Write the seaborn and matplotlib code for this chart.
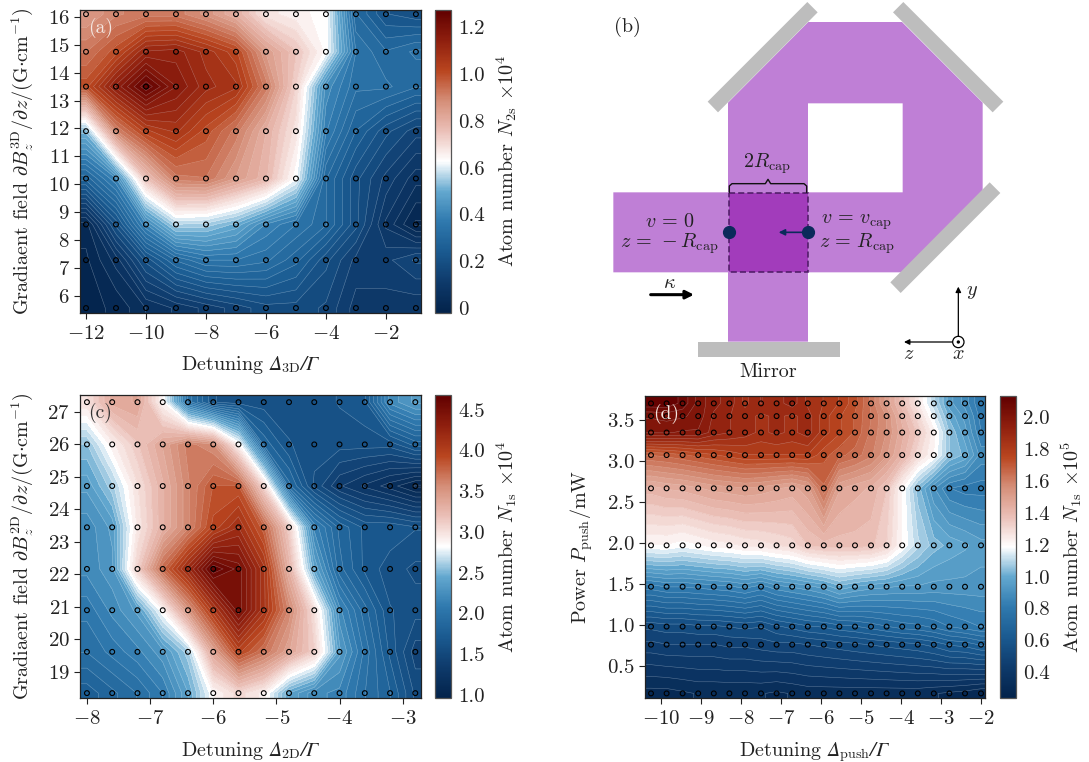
import numpy as np
import matplotlib
matplotlib.use('Agg')
import matplotlib.pyplot as plt
from matplotlib.cm import ScalarMappable
from matplotlib.colors import Normalize
from matplotlib.patches import Polygon, Circle
import seaborn as sns

# panel a
a_x = [-12, -11, -10, -9, -8, -7, -6, -5, -4, -3, -2, -1]
a_y = [5.55, 7.27, 8.55, 10.2, 11.9, 13.5, 14.75, 16.1]
a_z = [
    [0.00, 0.01, 0.06, 0.09, 0.12, 0.15, 0.18, 0.18, 0.16, 0.10, 0.10, 0.09],
    [0.00, 0.07, 0.20, 0.30, 0.35, 0.35, 0.33, 0.28, 0.20, 0.13, 0.13, 0.17],
    [0.02, 0.20, 0.40, 0.56, 0.55, 0.50, 0.40, 0.35, 0.30, 0.20, 0.08, 0.00],
    [0.28, 0.40, 0.75, 0.92, 0.93, 0.85, 0.78, 0.62, 0.30, 0.20, 0.13, 0.07],
    [0.52, 0.90, 1.03, 1.07, 1.00, 0.92, 0.80, 0.68, 0.38, 0.27, 0.20, 0.15],
    [1.00, 1.15, 1.27, 1.17, 1.10, 1.07, 0.92, 0.72, 0.42, 0.33, 0.33, 0.30],
    [0.93, 1.00, 1.12, 1.13, 1.08, 1.02, 0.85, 0.75, 0.63, 0.35, 0.30, 0.33],
    [0.85, 0.90, 0.92, 0.92, 0.87, 0.80, 0.68, 0.65, 0.63, 0.30, 0.22, 0.20],
]

# panel c
c_x = [-8, -7.6, -7.2, -6.8, -6.4, -6, -5.6, -5.2, -4.8, -4.4, -4, -3.6, -3.2, -2.8]
c_y = [18.35, 19.62, 20.9, 22.17, 23.45, 24.72, 26.0, 27.3]
c_z = [
    [1.75, 1.85, 1.95, 2.10, 2.40, 2.85, 3.05, 2.90, 2.40, 2.20, 2.15, 1.95, 1.80, 1.55],
    [1.95, 2.05, 2.15, 2.30, 2.60, 3.40, 3.95, 3.70, 3.40, 3.10, 2.35, 2.00, 1.70, 1.45],
    [2.05, 2.20, 2.35, 2.85, 3.50, 4.05, 4.50, 4.10, 3.60, 3.00, 2.20, 1.90, 1.65, 1.60],
    [2.20, 2.30, 3.10, 3.75, 4.20, 4.67, 4.50, 4.10, 3.30, 2.40, 1.90, 1.70, 1.60, 1.55],
    [2.20, 2.35, 2.95, 3.30, 3.60, 3.95, 4.15, 3.80, 3.10, 2.15, 1.85, 1.70, 1.70, 1.65],
    [2.35, 2.60, 3.00, 3.30, 3.60, 3.85, 3.85, 3.05, 1.90, 1.55, 1.35, 1.25, 1.15, 1.02],
    [2.55, 2.90, 3.15, 3.40, 3.65, 3.55, 2.85, 1.85, 1.65, 1.60, 1.60, 1.60, 1.60, 1.75],
    [3.00, 3.35, 3.40, 2.85, 2.00, 1.65, 1.60, 1.60, 1.60, 1.60, 1.65, 1.70, 2.20, 2.35],
]

# panel d
d_x = [-10.25, -9.86, -9.46, -9.07, -8.68, -8.29, -7.9, -7.5, -7.11, -6.72, -6.33,
       -5.93, -5.54, -5.15, -4.75, -4.36, -3.97, -3.58, -3.18, -2.79, -2.4, -2.0]
d_y = [0.166, 0.76, 0.98, 1.466, 1.97, 2.665, 3.07, 3.345, 3.545, 3.70]
d_z = [
    [0.30, 0.30, 0.31, 0.32, 0.32, 0.32, 0.32, 0.32, 0.31, 0.32, 0.33, 0.33, 0.33, 0.33, 0.33, 0.33, 0.33, 0.33, 0.32, 0.31, 0.30, 0.28],
    [0.46, 0.47, 0.47, 0.47, 0.47, 0.48, 0.48, 0.49, 0.50, 0.50, 0.51, 0.52, 0.53, 0.54, 0.55, 0.56, 0.57, 0.58, 0.60, 0.63, 0.64, 0.67],
    [0.52, 0.53, 0.53, 0.54, 0.54, 0.55, 0.56, 0.55, 0.58, 0.60, 0.62, 0.63, 0.65, 0.66, 0.68, 0.70, 0.72, 0.73, 0.75, 0.78, 0.80, 0.82],
    [0.80, 0.82, 0.82, 0.83, 0.84, 0.85, 0.87, 0.84, 0.88, 0.90, 0.92, 0.95, 1.00, 0.97, 0.95, 0.94, 0.93, 0.93, 0.92, 0.92, 0.92, 0.92],
    [1.20, 1.20, 1.18, 1.20, 1.22, 1.23, 1.25, 1.26, 1.28, 1.30, 1.36, 1.38, 1.38, 1.38, 1.37, 1.32, 1.20, 1.10, 1.03, 1.00, 0.98, 0.95],
    [1.42, 1.44, 1.45, 1.47, 1.49, 1.50, 1.51, 1.50, 1.48, 1.46, 1.50, 1.66, 1.48, 1.45, 1.43, 1.36, 1.20, 1.03, 0.90, 0.82, 0.80, 0.80],
    [1.67, 1.68, 1.70, 1.72, 1.74, 1.76, 1.78, 1.78, 1.78, 1.78, 1.78, 1.72, 1.68, 1.65, 1.60, 1.52, 1.42, 1.30, 1.20, 1.05, 1.00, 0.88],
    [1.98, 1.98, 1.97, 1.97, 1.92, 1.90, 1.88, 1.85, 1.87, 1.85, 1.88, 1.80, 1.75, 1.70, 1.62, 1.55, 1.45, 1.35, 1.22, 1.05, 0.95, 0.82],
    [2.02, 2.03, 2.02, 2.00, 1.93, 1.90, 1.88, 1.85, 1.87, 1.85, 1.88, 1.80, 1.75, 1.70, 1.63, 1.55, 1.42, 1.30, 1.15, 1.00, 0.92, 0.80],
    [2.12, 2.12, 2.08, 2.00, 1.95, 1.92, 1.85, 1.90, 1.88, 1.92, 1.85, 1.82, 1.78, 1.72, 1.62, 1.50, 1.38, 1.25, 1.10, 0.95, 0.88, 0.78],
]

# colorbar tick labels
a_cticks = ['0', '0.2', '0.4', '0.6', '0.8', '1.0', '1.2']
c_cticks = ['1.0', '1.5', '2.0', '2.5', '3.0', '3.5', '4.0', '4.5']
d_cticks = ['0.4', '0.6', '0.8', '1.0', '1.2', '1.4', '1.6', '1.8', '2.0']

# panel b outlines
beam = [(414, 1025), (414, 308), (655, 66), (936, 66), (1178, 308), (1178, 577), (938, 817),
        (70, 817), (70, 577), (938, 577), (938, 310), (654, 310), (654, 1025)]
overlap = [(416, 578), (653, 578), (653, 816), (416, 816)]
mirrors = [
    [(353, 305), (652, 6), (683, 37), (384, 337)],
    [(940, 6), (1240, 305), (1208, 337), (909, 37)],
    [(1199, 547), (1231, 579), (932, 879), (901, 847)],
    [(325, 1025), (750, 1025), (750, 1071), (325, 1071)],
]

W, H = 1089, 762
TICK = 15
LABEL = 14.5

sns.set_theme(style='ticks')
plt.rcParams['font.family'] = ['cmr10', 'DejaVu Serif']
plt.rcParams['mathtext.fontset'] = 'cm'
plt.rcParams['axes.formatter.use_mathtext'] = True
plt.rcParams['axes.unicode_minus'] = True
plt.rcParams['text.color'] = '#222222'
plt.rcParams['axes.labelcolor'] = '#222222'
plt.rcParams['xtick.color'] = '#222222'
plt.rcParams['ytick.color'] = '#222222'
# slanted capital greek on the x labels
plt.rcParams['mathtext.rm'] = 'STIXGeneral:italic'
plt.rcParams['mathtext.sf'] = 'cmr10'
plt.rcParams['mathtext.it'] = 'STIXGeneral:italic'

cmap = sns.blend_palette(['#03234b', '#0e3a6b', '#1a5a90', '#2f79ae', '#63a8cf', '#ffffff', '#ebc0b8',
                          '#d58e78', '#b9451f', '#8f1f0e', '#610000'], as_cmap=True)


def box(left, top, right, bottom):
    return [left / W, 1 - bottom / H, (right - left) / W, (bottom - top) / H]


def panel(xs, ys, zs, pos, cpos, xlim, ylim, vlim, xticks, yticks, cticks, xlabel, ylabel, clabel, tag, tagcol):
    ax = fig.add_axes(box(*pos))
    cax = fig.add_axes(box(*cpos))
    # grid carried out to the frame with the edge values
    gx = [xlim[0]] + list(xs) + [xlim[1]]
    gy = [ylim[0]] + list(ys) + [ylim[1]]
    gz = np.pad(np.array(zs), 1, mode='edge')
    levels = np.linspace(vlim[0], vlim[1], 50)
    ax.contourf(gx, gy, gz, levels=levels, cmap=cmap, vmin=vlim[0], vmax=vlim[1])
    ax.contour(gx, gy, gz, levels=levels, colors='white', linewidths=0.35, alpha=0.35)
    mx, my = np.meshgrid(xs, ys)
    sns.scatterplot(x=mx.ravel(), y=my.ravel(), ax=ax, s=12, facecolor='none', edgecolor='#000000',
                    linewidth=0.8, zorder=5)
    ax.set_xlim(xlim)
    ax.set_ylim(ylim)
    ax.set_xticks(xticks)
    ax.set_yticks(yticks)
    ax.tick_params(axis='x', length=4, width=0.8, labelsize=TICK, pad=5)
    ax.tick_params(axis='y', length=4.3, width=0.8, labelsize=TICK, pad=3)
    ax.set_xlabel(xlabel, fontsize=LABEL, labelpad=8, math_fontfamily='custom')
    ax.set_ylabel(ylabel, fontsize=LABEL, labelpad=9)
    for s in ax.spines.values():
        s.set_linewidth(0.9)
        s.set_color('#222222')
    sm = ScalarMappable(norm=Normalize(vlim[0], vlim[1]), cmap=cmap)
    cb = fig.colorbar(sm, cax=cax)
    cb.set_ticks([float(t) for t in cticks], labels=cticks)
    cb.outline.set_linewidth(0.9)
    cb.outline.set_edgecolor('#555555')
    cax.tick_params(direction='in', length=4.3, width=0.8, labelsize=TICK, pad=5)
    cb.set_label(clabel, fontsize=LABEL, labelpad=7)
    ax.text(0.025, 0.94, tag, transform=ax.transAxes, color=tagcol, fontsize=TICK - 1, va='center', zorder=6)
    return ax


fig = plt.figure(figsize=(W / 100, H / 100), dpi=100)

panel(a_x, a_y, a_z, (80, 10, 421, 312.5), (435, 10, 451, 312.5), (-12.2, -0.83), (5.39, 16.25), (-0.02, 1.275),
      [-12, -10, -8, -6, -4, -2], [6, 7, 8, 9, 10, 11, 12, 13, 14, 15, 16], a_cticks,
      r'Detuning $\Delta_{\mathsf{3D}}/\Gamma$',
      r'Gradiaent field $\partial B_z^{\rm 3D}/\partial z/({\rm G{\cdot}cm}^{-1})$',
      r'Atom number $N_{\rm 2s}$ $\times 10^4$', '(a)', '#f4e6e0')

panel(c_x, c_y, c_z, (80, 395, 421, 698), (435, 395, 451, 698), (-8.11, -2.71), (18.2, 27.52), (0.96, 4.68),
      [-8, -7, -6, -5, -4, -3], [19, 20, 21, 22, 23, 24, 25, 26, 27], c_cticks,
      r'Detuning $\Delta_{\mathsf{2D}}/\Gamma$',
      r'Gradiaent field $\partial B_z^{\rm 2D}/\partial z/({\rm G{\cdot}cm}^{-1})$',
      r'Atom number $N_{\rm 1s}$ $\times 10^4$', '(c)', '#333333')

panel(d_x, d_y, d_z, (645, 396, 985, 698), (1000, 396, 1016, 698), (-10.4, -1.9), (0.11, 3.79), (0.24, 2.13),
      [-10, -9, -8, -7, -6, -5, -4, -3, -2], [0.5, 1.0, 1.5, 2.0, 2.5, 3.0, 3.5], d_cticks,
      r'Detuning $\Delta_{\mathsf{push}}/\Gamma$',
      r'Power $P_{\rm push}/{\rm mW}$',
      r'Atom number $N_{\rm 1s}$ $\times 10^5$', '(d)', '#f4e6e0')

# panel b drawn in the pixel frame of its crop
axb = fig.add_axes(box(590, 0, 1020, 385))
axb.set_xlim(0, 1290)
axb.set_ylim(1155, 0)
axb.axis('off')
axb.add_patch(Polygon(beam, closed=True, fc='#bf7fd6', ec='none'))
axb.add_patch(Polygon(overlap, closed=True, fc='#a23cbb', ec='#4b1a63', lw=1.1, ls=(0, (4, 2))))
for m in mirrors:
    axb.add_patch(Polygon(m, closed=True, fc='#bdbdbd', ec='none'))

navy = '#0b2a5b'
axb.plot([418, 418, 426, 526, 534, 542, 642, 650, 650], [577, 558, 551, 551, 538, 551, 551, 558, 577],
         color='#111111', lw=1.0, solid_joinstyle='round')
axb.plot([416, 653], [697, 697], ls='none', marker='o', ms=8.5, color=navy)
axb.annotate('', xy=(566, 697), xytext=(653, 697),
             arrowprops=dict(arrowstyle='-|>', color=navy, lw=1.2, shrinkA=0, shrinkB=0, mutation_scale=9))
axb.annotate('', xy=(312, 884), xytext=(182, 884),
             arrowprops=dict(arrowstyle='-|>', color='black', lw=2.2, shrinkA=0, shrinkB=0, mutation_scale=12))
axb.annotate('', xy=(1105, 860), xytext=(1105, 1026),
             arrowprops=dict(arrowstyle='-|>', color='black', lw=0.9, shrinkA=0, shrinkB=0, mutation_scale=8))
axb.annotate('', xy=(942, 1026), xytext=(1105, 1026),
             arrowprops=dict(arrowstyle='-|>', color='black', lw=0.9, shrinkA=0, shrinkB=0, mutation_scale=8))
axb.add_patch(Circle((1105, 1026), 17, fc='white', ec='black', lw=0.9, zorder=4))
axb.add_patch(Circle((1105, 1026), 5, fc='black', ec='none', zorder=5))

labels = [
    (112, 82, '(b)'), (530, 490, r'$2R_{\rm cap}$'), (238, 665, r'$v\,=\,0$'),
    (238, 730, r'$z\,=\,-R_{\rm cap}$'), (800, 668, r'$v\,=\,v_{\rm cap}$'), (800, 730, r'$z\,=\,R_{\rm cap}$'),
    (238, 848, r'$\kappa$'), (1145, 875, r'$y$'), (957, 1062, r'$z$'), (1104, 1062, r'$x$'),
    (535, 1115, 'Mirror'),
]
for lx, ly, s in labels:
    axb.text(lx, ly, s, ha='center', va='center', fontsize=14.5, color='#222222')

fig.savefig('out.png', dpi=100)
